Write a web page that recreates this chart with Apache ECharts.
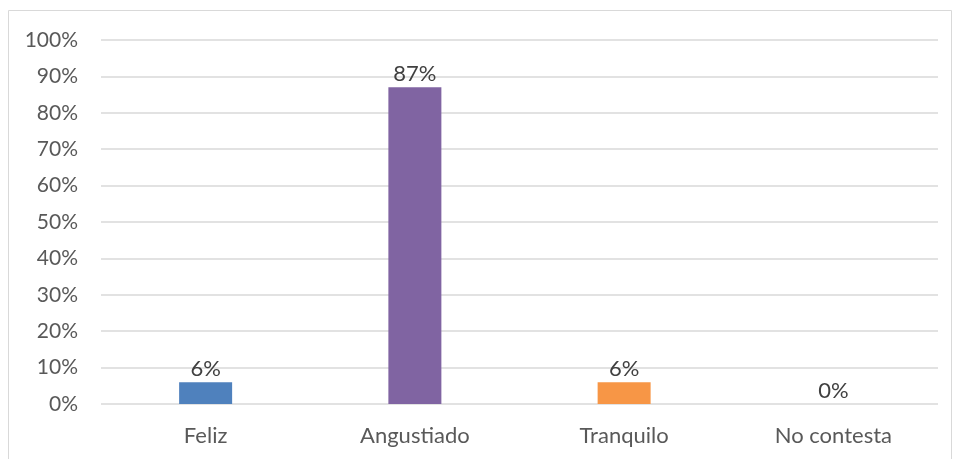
<!DOCTYPE html>
<html><head><meta charset="utf-8">
<script src="https://cdn.jsdelivr.net/npm/echarts@6/dist/echarts.min.js"></script>
<style>html,body{margin:0;padding:0;background:#fff}#c{width:953px;height:459px}</style>
</head><body><div id="c"></div>
<script>
const categories = ['Feliz', 'Angustiado', 'Tranquilo', 'No contesta'];
const values = [6, 87, 6, 0];
const colors = ['#4F81BD', '#8064A2', '#F79646', '#9BBB59'];
const chart = echarts.init(document.getElementById('c'));
const font = 'Lato, "Open Sans", sans-serif';
chart.setOption({
  animation: false,
  graphic: [{type:'rect', shape:{x:8.5,y:10.5,width:943,height:460}, style:{fill:'none', stroke:'#d9d9d9', lineWidth:1}}],
  grid: {left: 101, right: 15, top: 40, bottom: 55},
  xAxis: {type:'category', data: categories,
    axisLine:{show:false}, axisTick:{show:false},
    axisLabel:{color:'#595959', fontSize:22, fontFamily:font, margin:21}},
  yAxis: {type:'value', min:0, max:100, interval:10,
    axisLine:{show:false}, axisTick:{show:false},
    axisLabel:{color:'#595959', fontSize:21, fontFamily:font, margin:23, formatter:'{value}%'},
    splitLine:{lineStyle:{color:'#d9d9d9', width:1.5}}},
  series: [{type:'bar', barWidth:53,
    data: values.map((v,i)=>({value:v, itemStyle:{color:colors[i]}})),
    label:{show:true, position:'top', distance:2, color:'#404040', fontSize:22, fontFamily:font, formatter:'{c}%'}}]
});
</script></body></html>
